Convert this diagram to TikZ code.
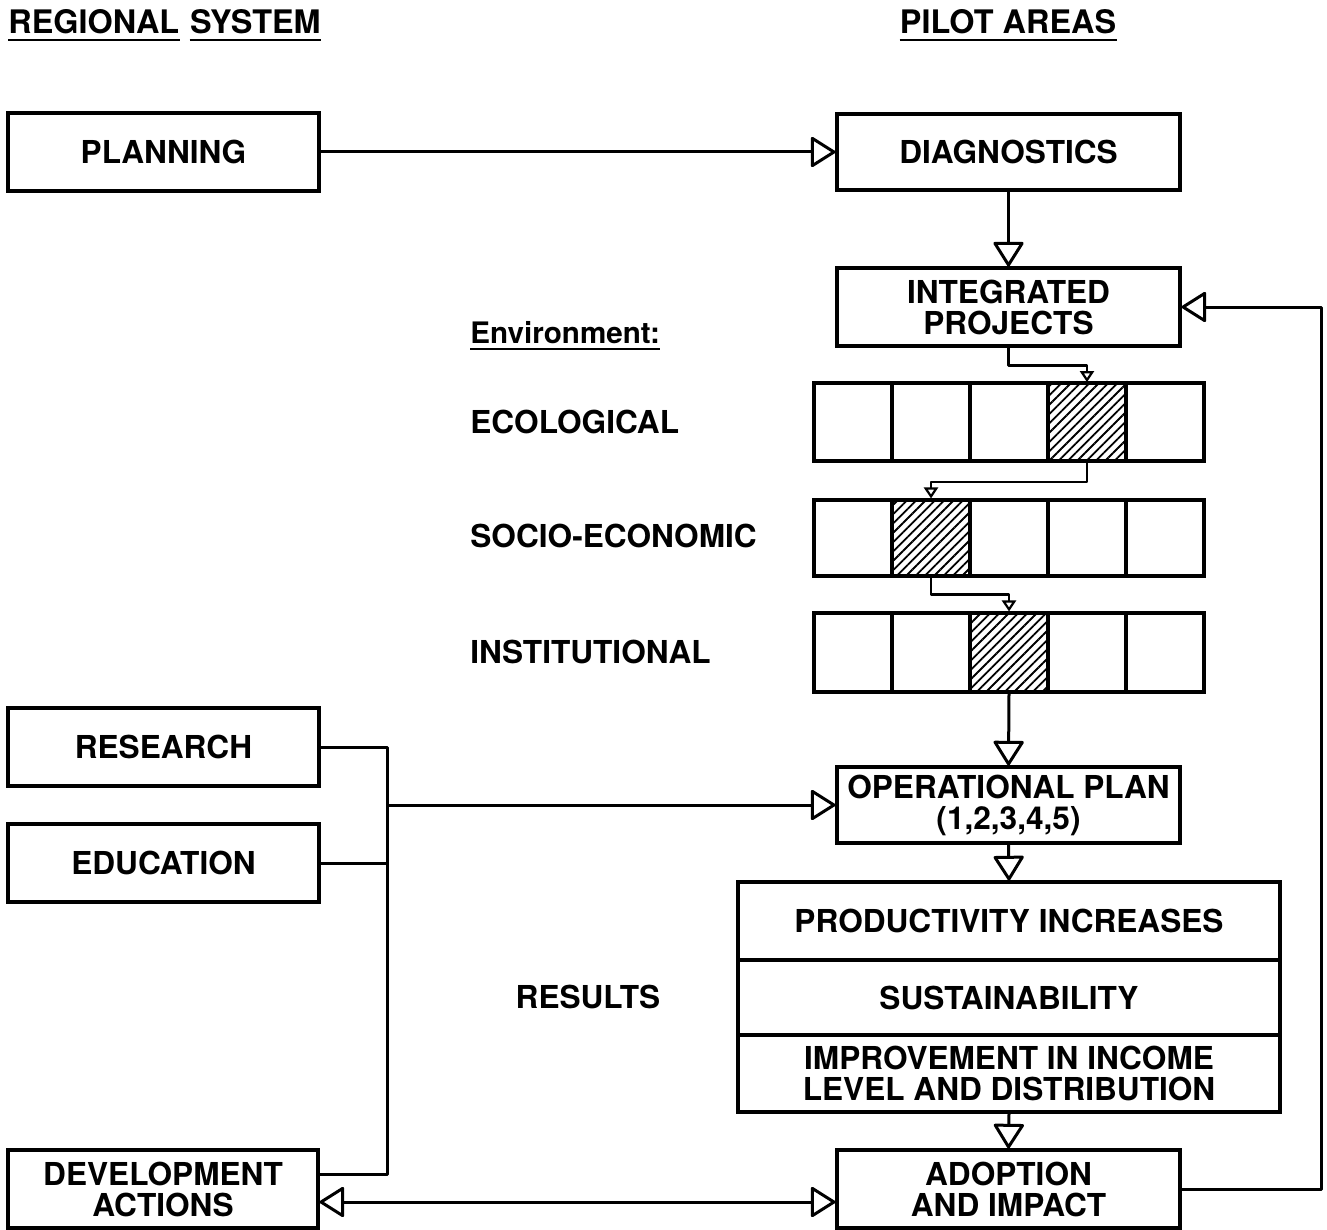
\documentclass[tikz,border=0pt]{standalone}
\usepackage{fontspec}
\setmainfont{TeX Gyre Heros}
\usetikzlibrary{arrows.meta,patterns.meta,calc}
\newcommand{\dglbl}{\fontsize{15.8}{15.5}\selectfont\bfseries}
\newcommand{\dghead}{\fontsize{16.2}{16}\selectfont\bfseries}
\begin{document}
\begin{tikzpicture}[x=0.5pt,y=-0.5pt,
  box/.style={draw, line width=1.55pt, inner sep=0pt, align=center, font=\dglbl},
  cell/.style={draw, line width=1.55pt, inner sep=0pt, minimum width=39pt, minimum height=39pt},
  hcell/.style={cell, pattern={Lines[angle=45,distance=3.3pt,line width=0.9pt]}},
  lbl/.style={font=\dglbl, inner sep=0pt},
  head/.style={font=\dghead, inner sep=0pt, anchor=base west},
  uline/.style={line width=1.4pt},
  conn/.style={line width=1.5pt, line join=round},
  sconn/.style={line width=1.1pt, line join=round, -{Triangle[open,length=5.5pt,width=7pt,line width=1.1pt]}},
  bigtip/.tip={Triangle[open,length=13pt,width=16pt,line width=1.5pt,round]}
]
\useasboundingbox (0,0) rectangle (1327,1230);

% headers
\node[head] (hreg1) at (8,34) {REGIONAL};
\node[head] (hreg2) at ($(hreg1.base east)+(10,0)$) {SYSTEM};
\node[head, anchor=base] (hpil) at (1008,34) {PILOT AREAS};
\foreach \n in {hreg1,hreg2,hpil}
  \draw[uline] ($(\n.base west)+(0,6)$) -- ($(\n.base east)+(0,6)$);

% left boxes
\node[box, minimum width=155.5pt, minimum height=39pt] (plan) at (163.5,152) {PLANNING};
\node[box, minimum width=155.5pt, minimum height=39pt] (res) at (163.5,747) {RESEARCH};
\node[box, minimum width=155.5pt, minimum height=39pt] (edu) at (163.5,863) {EDUCATION};
\node[box, minimum width=155pt, minimum height=39pt] (dev) at (163,1189) {DEVELOPMENT\\ACTIONS};

% right boxes
\node[box, minimum width=171.5pt, minimum height=38pt] (diag) at (1008.5,152) {DIAGNOSTICS};
\node[box, minimum width=171.5pt, minimum height=39pt] (integ) at (1008.5,307) {INTEGRATED\\PROJECTS};
\node[box, minimum width=171.5pt, minimum height=38pt] (op) at (1008.5,805) {OPERATIONAL PLAN\\(1,2,3,4,5)};
\node[box, minimum width=271pt, minimum height=39pt] (prod) at (1009,921) {PRODUCTIVITY INCREASES};
\node[box, minimum width=271pt, minimum height=37.5pt] (sus) at (1009,997.5) {SUSTAINABILITY};
\node[box, minimum width=271pt, minimum height=38.5pt] (imp) at (1009,1073.5) {IMPROVEMENT IN INCOME\\LEVEL AND DISTRIBUTION};
\node[box, minimum width=171.5pt, minimum height=39pt] (adopt) at (1008.5,1189) {ADOPTION\\AND IMPACT};

% environment labels
\node[lbl, anchor=base west, font=\fontsize{14.8}{15}\selectfont\bfseries] (env) at (470,343) {Environment:};
\draw[uline] ($(env.base west)+(0,6)$) -- ($(env.base east)+(0,6)$);
\node[lbl, anchor=west] (leco) at (470,422) {ECOLOGICAL};
\node[lbl, anchor=west] (lsoc) at (470,536) {SOCIO-ECONOMIC};
\node[lbl, anchor=west] (lins) at (470,652) {INSTITUTIONAL};
\node[lbl] (lres) at (588,997) {RESULTS};

% cell rows
\foreach \i/\x/\s in {1/853/cell,2/931/cell,3/1009/cell,4/1087/hcell,5/1165/cell}
  \node[\s] (e\i) at (\x,422) {};
\foreach \i/\x/\s in {1/853/cell,2/931/hcell,3/1009/cell,4/1087/cell,5/1165/cell}
  \node[\s, minimum height=38pt] (s\i) at (\x,538) {};
\foreach \i/\x/\s in {1/853/cell,2/931/cell,3/1009/hcell,4/1087/cell,5/1165/cell}
  \node[\s, minimum height=39.5pt] (i\i) at (\x,652.5) {};

% small connectors
\draw[sconn] (integ.south) -- ++(0,18) -| (e4.north);
\draw[sconn] (e4.south) -- ++(0,20) -| (s2.north);
\draw[sconn] (s2.south) -- ++(0,17) -| (i3.north);

% main connectors
\draw[conn, -{bigtip}] (plan.east) -- (diag.west);
\draw[conn, -{bigtip}] (diag.south) -- (integ.north);
\draw[conn, -{bigtip}] (i3.south) -- (op.north);
\draw[conn, -{bigtip}] (op.south) -- (prod.north);
\draw[conn, -{bigtip}] (imp.south) -- (adopt.north);
\draw[conn, -{bigtip}] (adopt.east) -- ++(140,0) |- (integ.east);

% bus
\coordinate (bt) at (387,747);
\coordinate (bb) at (387,1174);
\draw[conn] (res.east) -- (bt) -- (bb) -- ($(dev.east)+(0,-15)$);
\draw[conn] (edu.east) -- (edu.east -| bt);
\draw[conn, -{bigtip}] (op.west -| bt) -- (op.west);
\draw[conn, {bigtip}-{bigtip}] ($(dev.east)+(0,13)$) -- ($(adopt.west)+(0,13)$);
\end{tikzpicture}
\end{document}
